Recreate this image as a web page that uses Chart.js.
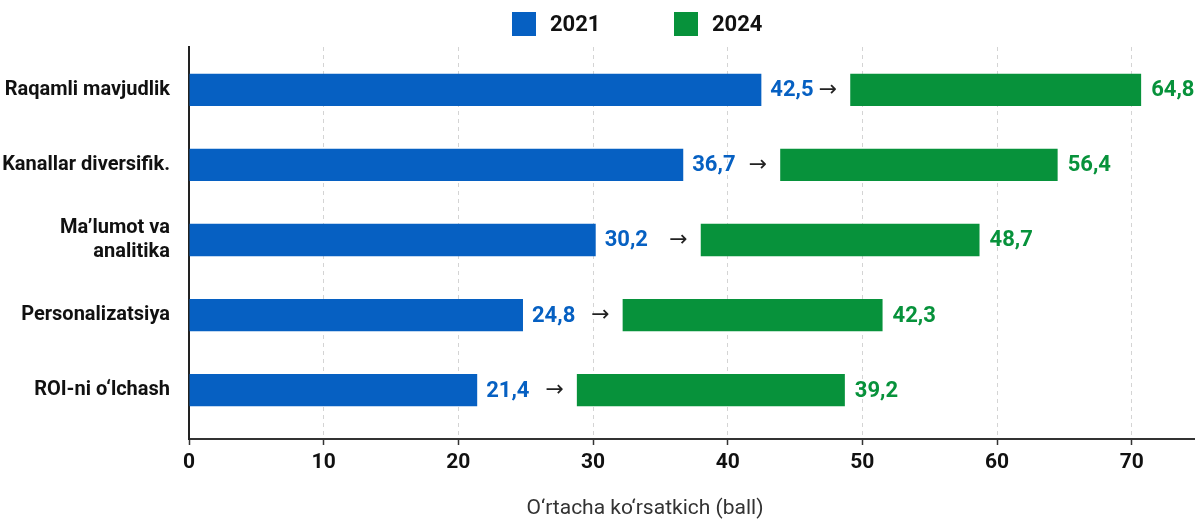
<!DOCTYPE html>
<html>
<head>
<meta charset="utf-8">
<script src="https://cdn.jsdelivr.net/npm/chart.js@4.4.1/dist/chart.umd.min.js"></script>
<style>
  html, body { margin: 0; padding: 0; background: #fff; }
  #wrap { width: 1195px; height: 519px; }
</style>
</head>
<body>
<div id="wrap"><canvas id="chart"></canvas></div>
<script>
var categories = ['Raqamli mavjudlik', 'Kanallar diversifik.', ['Ma\u2019lumot va', 'analitika'], 'Personalizatsiya', 'ROI-ni o\u2018lchash'];
var values2021 = [42.5, 36.7, 30.2, 24.8, 21.4];
var values2024 = [64.8, 56.4, 48.7, 42.3, 39.2];
var green2024From = [49.1, 43.9, 38.0, 32.2, 28.8];
var green2024To = [70.7, 64.5, 58.7, 51.5, 48.7];
var xTicks = [0, 10, 20, 30, 40, 50, 60, 70];

var FONT = 'Roboto, "Liberation Sans", sans-serif';
var BLUE = '#0660c2';
var GREEN = '#07923b';

function fmt(v) { return v.toFixed(1).replace('.', ','); }

var labelsPlugin = {
  id: 'barLabels',
  afterDatasetsDraw: function(chart) {
    var ctx = chart.ctx;
    var blue = chart.getDatasetMeta(0).data;
    var green = chart.getDatasetMeta(1).data;
    ctx.save();
    ctx.textBaseline = 'middle';
    for (var i = 0; i < blue.length; i++) {
      ctx.font = 'bold 22px ' + FONT;
      ctx.textAlign = 'left';
      ctx.fillStyle = BLUE;
      ctx.fillText(fmt(values2021[i]), blue[i].x + 9, blue[i].y + 1);
      ctx.fillStyle = GREEN;
      ctx.fillText(fmt(values2024[i]), green[i].x + 10, green[i].y + 1);
      ctx.font = '22px "DejaVu Sans", sans-serif';
      ctx.textAlign = 'right';
      ctx.fillStyle = '#222';
      ctx.fillText('\u2192', green[i].base - 13, green[i].y);
    }
    ctx.restore();
  },
  afterDraw: function(chart) {
    var ctx = chart.ctx;
    ctx.save();
    // legend
    var lx = [512, 674];
    ctx.textBaseline = 'middle';
    ctx.textAlign = 'left';
    ctx.font = 'bold 22px ' + FONT;
    chart.data.datasets.forEach(function(ds, i) {
      ctx.fillStyle = ds.backgroundColor;
      ctx.fillRect(lx[i], 12, 24, 24);
      ctx.fillStyle = '#111';
      ctx.fillText(ds.label, lx[i] + 38, 25);
    });
    // axis title
    ctx.font = '21px ' + FONT;
    ctx.fillStyle = '#333';
    ctx.textAlign = 'center';
    ctx.fillText('O\u2018rtacha ko\u2018rsatkich (ball)', 645, 509);
    ctx.restore();
  }
};

new Chart(document.getElementById('chart'), {
  type: 'bar',
  data: {
    datasets: [
      {
        label: '2021',
        data: values2021.map(function(v, i) { return {x: v, y: i}; }),
        backgroundColor: BLUE
      },
      {
        label: '2024',
        data: green2024From.map(function(v, i) { return {x: [v, green2024To[i]], y: i}; }),
        backgroundColor: GREEN
      }
    ]
  },
  options: {
    indexAxis: 'y',
    responsive: true,
    maintainAspectRatio: false,
    animation: false,
    grouped: false,
    categoryPercentage: 1,
    barPercentage: 0.43,
    layout: { padding: { top: 47, right: 0, left: 0, bottom: 0 } },
    plugins: { legend: { display: false }, tooltip: { enabled: false } },
    scales: {
      x: {
        type: 'linear',
        min: 0,
        max: 74.7,
        afterBuildTicks: function(axis) { axis.ticks = xTicks.map(function(v) { return {value: v}; }); },
        afterFit: function(scale) { scale.height = 80; },
        ticks: { color: '#111', font: { family: FONT, size: 21, weight: 'bold' }, padding: 5, autoSkip: false, maxRotation: 0 },
        grid: { color: '#d4d4d4', lineWidth: 1, tickColor: '#333', tickLength: 6, tickWidth: 1.5 },
        border: { display: true, color: '#333', width: 2, dash: [4, 4] }
      },
      y: {
        type: 'linear',
        offset: false,
        min: -0.573,
        max: 4.653,
        reverse: true,
        afterBuildTicks: function(axis) { axis.ticks = categories.map(function(c, i) { return {value: i}; }); },
        afterFit: function(scale) { scale.width = 189; },
        ticks: {
          color: '#111',
          font: { family: FONT, size: 20, weight: 'bold', lineHeight: 1.2 },
          padding: 19,
          autoSkip: false,
          callback: function(v) { return categories[v]; }
        },
        grid: { display: false, drawTicks: false },
        border: { display: true, color: '#222', width: 2 }
      }
    }
  },
  plugins: [labelsPlugin]
});
</script>
</body>
</html>
